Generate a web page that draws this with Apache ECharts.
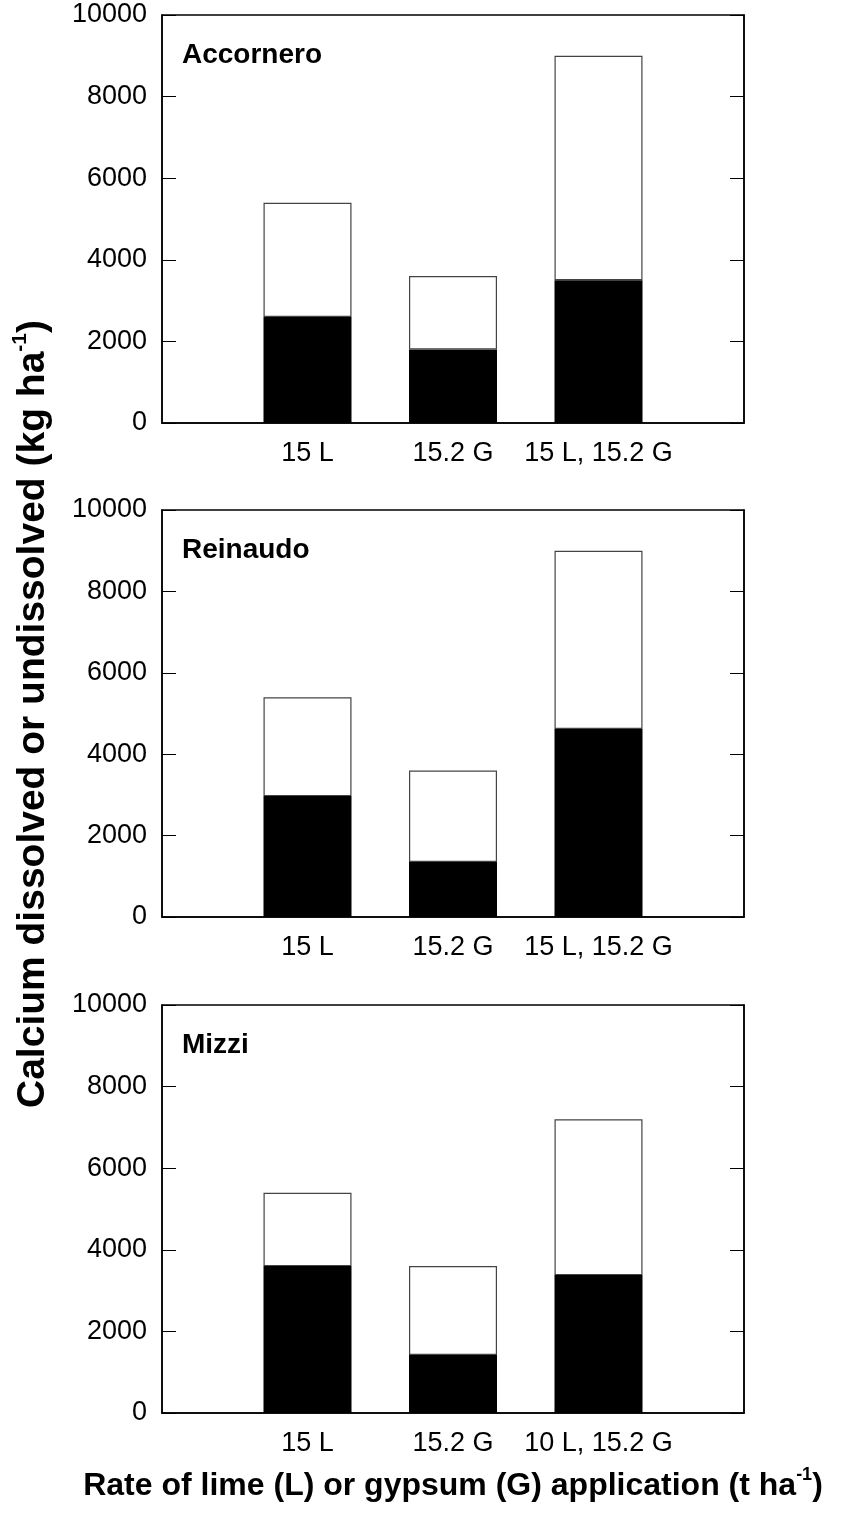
<!DOCTYPE html>
<html>
<head>
<meta charset="utf-8">
<style>
  html, body { margin: 0; padding: 0; background: #fff; }
  #chart { width: 841px; height: 1528px; }
</style>
<script src="https://cdn.jsdelivr.net/npm/echarts@6/dist/echarts.min.js"></script>
</head>
<body>
<div id="chart"></div>
<script>
// Treatments per site (blank slots pad the axis ends)
const treatmentsA = ['', '15 L', '15.2 G', '15 L, 15.2 G', ''];
const treatmentsB = ['', '15 L', '15.2 G', '15 L, 15.2 G', ''];
const treatmentsC = ['', '15 L', '15.2 G', '10 L, 15.2 G', ''];

const siteNames = ['Accornero', 'Reinaudo', 'Mizzi'];

// Calcium dissolved (kg/ha) and total applied calcium (kg/ha)
const accorneroDissolved = [null, 2600, 1800, 3500, null];
const accorneroTotal     = [null, 5400, 3600, 9000, null];
const reinaudoDissolved  = [null, 2970, 1350, 4620, null];
const reinaudoTotal      = [null, 5400, 3600, 9000, null];
const mizziDissolved     = [null, 3600, 1420, 3380, null];
const mizziTotal         = [null, 5400, 3600, 7200, null];

const yTicks = [0, 2000, 4000, 6000, 8000, 10000];

const FONT = 'Liberation Sans, Arial, sans-serif';

const panels = [
  { cats: treatmentsA, dis: accorneroDissolved, tot: accorneroTotal, top: 15,   height: 408 },
  { cats: treatmentsB, dis: reinaudoDissolved,  tot: reinaudoTotal,  top: 510,  height: 407 },
  { cats: treatmentsC, dis: mizziDissolved,     tot: mizziTotal,     top: 1005, height: 408 }
];

const grids = [], xAxes = [], yAxes = [], series = [], graphics = [];

panels.forEach((p, i) => {
  grids.push({
    left: 162, width: 582, top: p.top, height: p.height,
    show: true, borderColor: '#000', borderWidth: 1.5, backgroundColor: 'transparent'
  });
  xAxes.push({
    type: 'category', gridIndex: i, data: p.cats, boundaryGap: false,
    axisLine: { show: true, lineStyle: { color: '#000', width: 1.5 } },
    axisTick: { show: false },
    axisLabel: { interval: 0, color: '#000', fontFamily: FONT, fontSize: 27, margin: 17 },
    splitLine: { show: false }
  });
  const yBase = {
    type: 'value', gridIndex: i, min: yTicks[0], max: yTicks[yTicks.length - 1],
    interval: yTicks[1] - yTicks[0],
    axisLine: { show: true, lineStyle: { color: '#000', width: 1.5 } },
    axisTick: { show: true, inside: true, length: 14, lineStyle: { color: '#000', width: 1 } },
    splitLine: { show: false }
  };
  yAxes.push(Object.assign({}, yBase, {
    position: 'left',
    axisLabel: {
      color: '#000', fontFamily: FONT, fontSize: 27, margin: 15,
      formatter: v => String(v)
    }
  }));
  yAxes.push(Object.assign({}, yBase, {
    position: 'right',
    axisLabel: { show: false }
  }));

  const undissolved = p.tot.map((t, k) => (t == null ? null : t - p.dis[k]));

  series.push({
    name: 'Dissolved', type: 'bar', stack: 'ca' + i,
    xAxisIndex: i, yAxisIndex: 2 * i,
    data: p.dis, barWidth: 88,
    itemStyle: { color: '#000', borderColor: '#000', borderWidth: 0 },
    animation: false, silent: true
  });
  series.push({
    name: 'Undissolved', type: 'bar', stack: 'ca' + i,
    xAxisIndex: i, yAxisIndex: 2 * i,
    data: undissolved, barWidth: 88,
    itemStyle: { color: '#fff', borderColor: '#444', borderWidth: 1.2 },
    animation: false, silent: true
  });

  graphics.push({
    type: 'text', x: 182, y: p.top + 40,
    style: { text: siteNames[i], fill: '#000', font: 'bold 28px ' + FONT, verticalAlign: 'middle' }
  });
});

// Axis titles with superscripts
graphics.push({
  type: 'text',
  x: 33, y: 714, rotation: Math.PI / 2,
  style: {
    text: '{m|Calcium dissolved or undissolved (kg ha}{s|-1}{m|)}',
    align: 'center', verticalAlign: 'middle',
    rich: {
      m: { fontFamily: FONT, fontWeight: 'bold', fontSize: 39, fill: '#000', lineHeight: 46 },
      s: { fontFamily: FONT, fontWeight: 'bold', fontSize: 21, fill: '#000', verticalAlign: 'top', lineHeight: 46, padding: [0, 0, 17, 0] }
    }
  }
});
graphics.push({
  type: 'text',
  x: 453, y: 1486,
  style: {
    text: '{m|Rate of lime (L) or gypsum (G) application (t ha}{s|-1}{m|)}',
    align: 'center', verticalAlign: 'middle',
    rich: {
      m: { fontFamily: FONT, fontWeight: 'bold', fontSize: 32, fill: '#000', lineHeight: 40 },
      s: { fontFamily: FONT, fontWeight: 'bold', fontSize: 18, fill: '#000', verticalAlign: 'top', lineHeight: 40, padding: [0, 0, 14, 0] }
    }
  }
});

const chart = echarts.init(document.getElementById('chart'), null, { renderer: 'canvas' });
chart.setOption({
  backgroundColor: '#fff',
  animation: false,
  grid: grids,
  xAxis: xAxes,
  yAxis: yAxes,
  series: series,
  graphic: graphics
});
</script>
</body>
</html>
